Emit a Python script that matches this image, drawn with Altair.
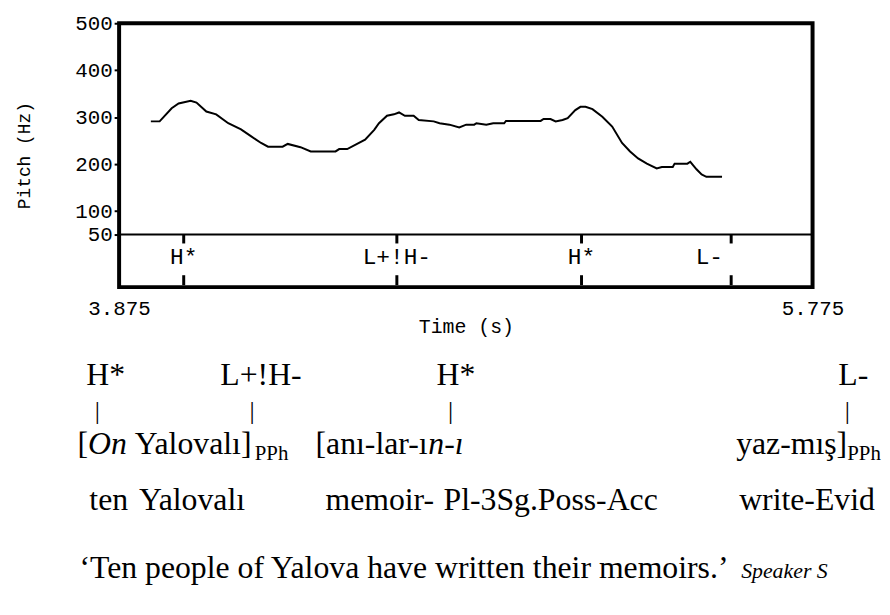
import altair as alt
import pandas as pd

# ---------------- data ----------------
time_s = [3.962, 3.986, 4.019, 4.038, 4.071, 4.087, 4.114, 4.141, 4.174, 4.209,
          4.237, 4.264, 4.283, 4.323, 4.337, 4.372, 4.400, 4.468, 4.478, 4.500,
          4.527, 4.549, 4.574, 4.587, 4.609, 4.628, 4.642, 4.658, 4.682, 4.696,
          4.737, 4.753, 4.780, 4.807, 4.826, 4.848, 4.854, 4.881, 4.900, 4.930,
          4.935, 5.030, 5.038, 5.057, 5.071, 5.090, 5.104, 5.125, 5.139, 5.153,
          5.172, 5.199, 5.226, 5.253, 5.275, 5.297, 5.321, 5.348, 5.362, 5.392,
          5.397, 5.432, 5.440, 5.457, 5.471, 5.484, 5.527]
pitch_hz = [291, 291, 319, 329, 335, 331, 312, 306, 287, 274,
            259, 245, 237, 237, 243, 236, 227, 227, 232, 232,
            243, 252, 273, 287, 303, 306, 310, 303, 303, 294,
            291, 287, 284, 278, 284, 284, 287, 284, 287, 287,
            292, 292, 296, 296, 291, 294, 298, 315, 322, 322,
            317, 301, 280, 245, 227, 212, 201, 191, 194, 194,
            201, 201, 205, 189, 178, 173, 173]

tier_times = [4.052, 4.636, 5.142, 5.552]
tier_labels = ["H*", "L+!H-", "H*", "L-"]

y_ticks = [50, 100, 200, 300, 400, 500]
x_ticks = [3.875, 5.775]

tone_row = ["H*", "L+!H-", "H*", "L-"]
bar_row = ["|", "|", "|", "|"]
word_row_regular = ["[", "Yalovalı]", "[anı-lar-ı", "yaz-mış]"]
word_row_italic = ["On", "n-ı"]
word_row_sub = ["PPh", "PPh"]
gloss_row = ["ten", "Yalovalı", "memoir-", "Pl-3Sg.Poss-Acc", "write-Evid"]
translation = ["‘Ten people of Yalova have written their memoirs.’"]
speaker = ["Speaker S"]

# ---------------- layout (pixels, relative to plot origin) ----------------
W, H = 699, 266
PITCH_H = 213
SERIF = "Liberation Serif"
MONO = "Liberation Mono"

tone_x = [-33, 102, 320, 725]
bar_x = [-22, 134, 334, 734]
word_reg_x = [-42, 15.8, 198, 622]
word_it_x = [-31.3, 311.7]
word_sub_x = [136.7, 734]
gloss_x = [-30, 20, 208, 327, 625]
trans_x = [-40]
speaker_x = [627]

ROW1, ROW2, ROW3, ROW4, ROW5 = 365, 399, 434, 491, 559


def text_layer(texts, xs, y, size, style="normal", align="left"):
    df = pd.DataFrame({"text": texts, "px": xs, "py": [y] * len(texts)})
    return alt.Chart(df).mark_text(
        font=SERIF, fontSize=size, fontStyle=style, align=align,
        baseline="alphabetic", color="black"
    ).encode(
        x=alt.X("px:Q", scale=None),
        y=alt.Y("py:Q", scale=None),
        text="text:N",
    )


x_scale = alt.Scale(domain=[3.875, 5.775], nice=False, zero=False)
y_scale = alt.Scale(domain=[50, 500], range=[PITCH_H, 0], nice=False, zero=False)

pitch_df = pd.DataFrame({"t": time_s, "hz": pitch_hz})
line = alt.Chart(pitch_df).mark_line(color="black", strokeWidth=2).encode(
    x=alt.X("t:Q", scale=x_scale,
            axis=alt.Axis(values=x_ticks, format=".3f", title="Time (s)",
                          ticks=False, tickSize=0, domain=False, grid=False,
                          labelFlush=False, labelPadding=28,
                          labelBaseline="alphabetic", labelFont=MONO,
                          labelFontSize=21, labelColor="black",
                          titleFont=MONO, titleFontSize=20,
                          titleFontWeight="normal", titleColor="black",
                          titleY=46, titleBaseline="alphabetic")),
    y=alt.Y("hz:Q", scale=y_scale,
            axis=alt.Axis(values=y_ticks, title="Pitch (Hz)", grid=False,
                          domain=False, ticks=True, tickSize=5, tickWidth=2,
                          tickColor="black", labelPadding=2, labelFont=MONO,
                          labelFontSize=21, labelColor="black",
                          labelOverlap=False, titleFont=MONO,
                          titleFontSize=18, titleFontWeight="normal",
                          titleColor="black", titleX=-95, titleY=133,
                          titleAngle=270, titleAlign="center",
                          titleBaseline="middle")),
)

sep = alt.Chart(pd.DataFrame({"hz": [50]})).mark_rule(
    color="black", strokeWidth=2).encode(y=alt.Y("hz:Q", scale=y_scale))

tier_df = pd.DataFrame({"t": tier_times, "label": tier_labels})
tick_top = alt.Chart(tier_df).mark_rule(color="black", strokeWidth=3).encode(
    x=alt.X("t:Q", scale=x_scale), y=alt.value(PITCH_H), y2=alt.value(222))
tick_bot = alt.Chart(tier_df).mark_rule(color="black", strokeWidth=3).encode(
    x=alt.X("t:Q", scale=x_scale), y=alt.value(254), y2=alt.value(264))

tier_text = alt.Chart(tier_df).transform_filter(
    alt.datum.label != "L-").mark_text(
    font=MONO, fontSize=23, color="black", baseline="middle").encode(
    x=alt.X("t:Q", scale=x_scale), y=alt.value(236), text="label:N")
tier_text_l = alt.Chart(tier_df).transform_filter(
    alt.datum.label == "L-").mark_text(
    font=MONO, fontSize=23, color="black", baseline="middle", dx=-22).encode(
    x=alt.X("t:Q", scale=x_scale), y=alt.value(236), text="label:N")

layers = [
    line, sep, tick_top, tick_bot, tier_text, tier_text_l,
    text_layer(tone_row, tone_x, ROW1, 32),
    text_layer(bar_row, bar_x, ROW2, 26, align="center"),
    text_layer(word_row_regular, word_reg_x, ROW3, 32),
    text_layer(word_row_italic, word_it_x, ROW3, 32, style="italic"),
    text_layer(word_row_sub, word_sub_x, ROW3 + 6, 21),
    text_layer(gloss_row, gloss_x, ROW4, 32),
    text_layer(translation, trans_x, ROW5, 32),
    text_layer(speaker, speaker_x, ROW5, 22, style="italic"),
]

chart = alt.layer(*layers).properties(
    width=W, height=H,
    autosize=alt.AutoSizeParams(type="none"),
    padding={"left": 112, "top": 13, "right": 70, "bottom": 310},
    background="white",
).configure_view(stroke="black", strokeWidth=4)

chart.save("out.html", embed_options={"renderer": "svg", "actions": False})
